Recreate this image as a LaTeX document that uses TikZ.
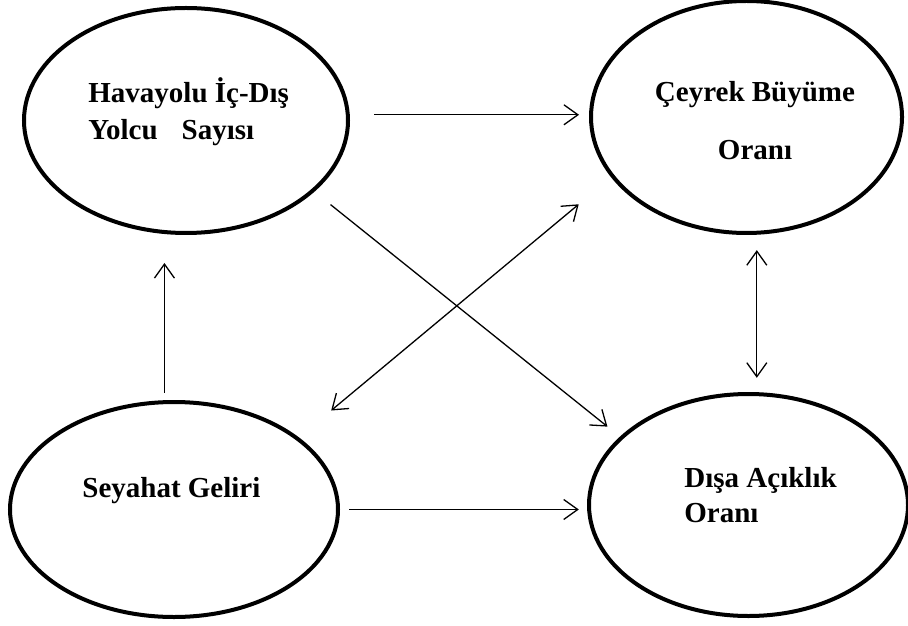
\documentclass[tikz,border=0pt]{standalone}
\usepackage{fontspec}
\setmainfont{Liberation Serif}
\usepackage{tikz}
\usetikzlibrary{shapes.geometric,arrows.meta}

\tikzset{
  oval/.style={draw, ellipse, line width=2pt, inner sep=0pt},
  caption/.style={inner sep=0pt, font=\fontsize{14.5}{18.5}\selectfont\bfseries},
  link/.style={line width=0.65pt, >={Straight Barb[length=7pt,width=10pt]}}
}

\begin{document}
\begin{tikzpicture}[x=0.5pt, y=-0.5pt]

    \useasboundingbox (0,0) rectangle (908,625);

    % Draw the four ellipses
    \node[oval, minimum width=162pt, minimum height=112.5pt] (hy) at (186,120.5) {};
    \node[oval, minimum width=155.5pt, minimum height=116pt] (cb) at (746.5,117) {};
    \node[oval, minimum width=164pt, minimum height=107.5pt] (sg) at (174,509.5) {};
    \node[oval, minimum width=159.5pt, minimum height=111pt] (da) at (748.5,505) {};

    % Add the labels (base = baseline of the last line)
    \node[caption, align=left, anchor=base west] (hyText) at (88,140)
        {Havayolu İç-Dış\\Yolcu\hspace*{12pt}Sayısı};
    \node[caption, align=center, anchor=base, font=\fontsize{14.5}{29}\selectfont\bfseries] (cbText) at (755,160)
        {Çeyrek Büyüme\\Oranı};
    \node[caption, anchor=base west] (sgText) at (82,497) {Seyahat Geliri};
    \node[caption, align=left, anchor=base west, font=\fontsize{14.5}{17.5}\selectfont\bfseries] (daText) at (684,522)
        {Dışa Açıklık\\Oranı};

    % Draw the arrows between the ellipses
    \draw[link, ->, shorten <=12.2pt, shorten >=5pt] (hy.2.6) -- (hy.2.6 -| cb.west);
    \draw[link, ->, shorten <=10.3pt, shorten >=8pt] (hy.-29.2) -- (da.152.8);
    \draw[link, <->, shorten <=21pt, shorten >=21.1pt] (sg.30.6) -- (cb.204.4);
    \draw[link, ->, shorten <=3.6pt, shorten >=14pt] (sg.95.7) -- (sg.95.7 |- hy.south);
    \draw[link, <->, shorten <=7.7pt, shorten >=7.1pt] (cb.275.1) -- (cb.275.1 |- da.north);
    \draw[link, ->, shorten <=4.5pt, shorten >=4.1pt] (sg.east) -- (sg.east -| da.west);

\end{tikzpicture}
\end{document}
